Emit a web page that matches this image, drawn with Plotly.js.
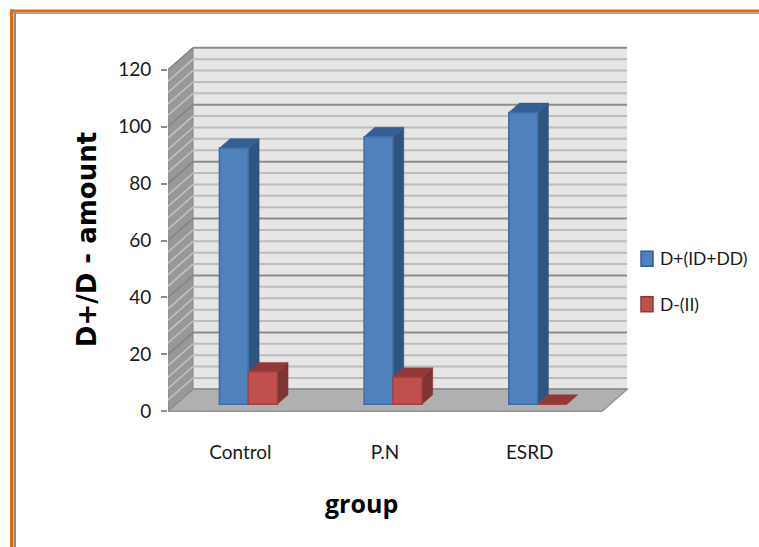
<!DOCTYPE html>
<html>
<head>
<meta charset="utf-8">
<script src="https://cdn.plot.ly/plotly-3.0.1.min.js"></script>
<style>html,body{margin:0;padding:0;background:#fff;overflow:hidden}#chart{width:759px;height:547px}</style>
</head>
<body>
<div id="chart"></div>
<script>
// Share of D+ and D- by patient group
const categories = ['Control', 'P.N', 'ESRD'];
const seriesNames = ['D+(ID+DD)', 'D-(II)'];
const dPlus = [90, 94, 102.5];
const dMinus = [11.4, 9.5, 0];
const yTicks = [0, 20, 40, 60, 80, 100, 120];
const minorStep = 4;

// Oblique projection: depth 0 is the front of the floor, depth 1 the back wall.
const W = 759, H = 547;
const plot = {l: 168, r: 759, t: 43, b: 416.7};
const xRange = [-0.5, 3.585];
const yRange = [-2, 129.4];
const depthX = 0.173;   // horizontal shift of the back wall, in category units
const depthY = 7.72;    // vertical shift of the back wall, in value units
const barNear = 0.32, barFar = 0.75, barWidth = 0.2;

const px = (x, depth) => x + depth * depthX;
const py = (v, depth) => v + depth * depthY;
const paperX = p => (p - plot.l) / (plot.r - plot.l);
const paperY = p => (plot.b - p) / (plot.b - plot.t);

const shapes = [];
function poly(points, fill, lineColor, lineWidth) {
  const path = points.map((p, i) => (i ? 'L' : 'M') + p[0] + ',' + p[1]).join(' ') + ' Z';
  shapes.push({type: 'path', xref: 'x', yref: 'y', layer: 'below', path, fillcolor: fill,
    line: {color: lineColor, width: lineWidth}});
}
function seg(x0, y0, x1, y1, color, width) {
  shapes.push({type: 'line', xref: 'x', yref: 'y', layer: 'below', x0, y0, x1, y1,
    line: {color, width}});
}

const xl = -0.5, xr = 2.5, yMax = yTicks[yTicks.length - 1];

// back wall, side wall and floor
poly([[px(xl,1),py(0,1)],[px(xr,1),py(0,1)],[px(xr,1),py(yMax,1)],[px(xl,1),py(yMax,1)]], '#e6e6e6', 'rgba(0,0,0,0)', 0);
poly([[px(xl,0),py(0,0)],[px(xl,1),py(0,1)],[px(xl,1),py(yMax,1)],[px(xl,0),py(yMax,0)]], '#989898', '#8a8a8a', 1);

// minor then major gridlines, wrapping from the side wall onto the back wall
for (let v = 0; v <= yMax; v += minorStep) {
  if (v % 20 === 0) continue;
  seg(px(xl,1), py(v,1), px(xr,1), py(v,1), '#bcbcbc', 2);
  seg(px(xl,0), py(v,0), px(xl,1), py(v,1), '#c4c4c4', 1.5);
}
yTicks.forEach(v => {
  seg(px(xl,1), py(v,1), px(xr,1), py(v,1), '#8c8c8c', 2);
  seg(px(xl,0), py(v,0), px(xl,1), py(v,1), '#828282', 1.5);
});
poly([[px(xl,0),py(0,0)],[px(xr,0),py(0,0)],[px(xr,1),py(0,1)],[px(xl,1),py(0,1)]], '#b0b0b0', '#929292', 1.5);

// depth faces of one bar: right side and top
function depthFaces(x0, value, sideColor, topColor, order) {
  const x1 = x0 + barWidth;
  const face = (pts, color) => ({
    type: 'scatter', mode: 'lines', fill: 'toself', fillcolor: color,
    x: pts.map(p => px(p[0], p[1])), y: pts.map(p => py(p[2], p[1])),
    line: {color, width: 0.5}, showlegend: false, hoverinfo: 'skip', zorder: order
  });
  return [
    face([[x1,barNear,0],[x1,barFar,0],[x1,barFar,value],[x1,barNear,value],[x1,barNear,0]], sideColor),
    face([[x0,barNear,value],[x1,barNear,value],[x1,barFar,value],[x0,barFar,value],[x0,barNear,value]], topColor)
  ];
}

// front face of a series, lifted and shifted to its place on the floor
function frontBars(name, values, offset, color, edge, order) {
  return {
    type: 'bar', name, showlegend: false,
    x: categories.map((c, i) => px(i, barNear)), y: values,
    base: values.map(() => py(0, barNear)),
    width: barWidth, offset,
    marker: {color, line: {color: edge, width: 1.5}},
    customdata: categories,
    hovertemplate: '%{customdata}: %{y}<extra>' + name + '</extra>',
    zorder: order
  };
}

const traces = [];
dPlus.forEach((v, i) => traces.push(...depthFaces(i - barWidth, v, '#2f5480', '#355f92', 1)));
traces.push(frontBars(seriesNames[0], dPlus, -barWidth, '#4f81bd', '#3d6da6', 2));
dMinus.forEach((v, i) => traces.push(...depthFaces(i, v, '#7e3432', '#923836', 3)));
traces.push(frontBars(seriesNames[1], dMinus, 0, '#c0504d', '#a8403d', 4));

// page frame: orange rule with a thin grey rule inside it
const frame = [
  {x0: 10, x1: W, y0: 9.5, y1: 12.5, c: '#e36c0a'},
  {x0: 10, x1: 13, y0: 9.5, y1: H, c: '#e36c0a'},
  {x0: 13.5, x1: W, y0: 12.5, y1: 14, c: '#a0a0a0'},
  {x0: 13.5, x1: 16, y0: 12.5, y1: H, c: '#8c8c8c'}
];
frame.forEach(f => shapes.push({
  type: 'rect', xref: 'paper', yref: 'paper', layer: 'above',
  x0: paperX(f.x0), x1: paperX(f.x1), y0: paperY(f.y0), y1: paperY(f.y1),
  fillcolor: f.c, line: {width: 0}
}));

const labelFont = {family: 'Lato, sans-serif', size: 19, color: '#1a1a1a'};
const legendFont = {family: 'Lato, sans-serif', size: 17.5, color: '#1a1a1a'};

// legend key beside the plot
const legendRows = [
  {name: seriesNames[0], top: 251, fill: '#4f81bd', edge: '#2f5f96'},
  {name: seriesNames[1], top: 296.5, fill: '#c0504d', edge: '#943634'}
];
const legendNotes = [];
legendRows.forEach(r => {
  shapes.push({
    type: 'rect', xref: 'paper', yref: 'paper', layer: 'above',
    x0: paperX(641), x1: paperX(653), y0: paperY(r.top), y1: paperY(r.top + 15),
    fillcolor: r.fill, line: {color: r.edge, width: 1.5}
  });
  legendNotes.push({
    xref: 'paper', yref: 'paper', x: paperX(658), y: paperY(r.top + 7.5),
    xanchor: 'left', yanchor: 'middle', showarrow: false, text: r.name, font: legendFont
  });
});

const layout = {
  width: W, height: H,
  paper_bgcolor: '#fff', plot_bgcolor: 'rgba(0,0,0,0)',
  margin: {l: plot.l, r: W - plot.r, t: plot.t, b: H - plot.b, pad: 0},
  barmode: 'overlay',
  showlegend: false,
  xaxis: {
    range: xRange, fixedrange: true, showgrid: false, zeroline: false, showline: false,
    tickmode: 'array', tickvals: categories.map((c, i) => i), ticktext: categories,
    ticks: 'outside', ticklen: 18, tickcolor: 'rgba(0,0,0,0)', tickfont: labelFont
  },
  yaxis: {
    range: yRange, fixedrange: true, showgrid: false, zeroline: false, showline: false,
    tickmode: 'array', tickvals: yTicks,
    ticks: 'outside', ticklen: 6, tickwidth: 1.5, tickcolor: '#8c8c8c',
    tickfont: labelFont, ticklabelstandoff: 6
  },
  shapes,
  annotations: [
    {xref: 'paper', yref: 'paper', x: paperX(361), y: paperY(503), xanchor: 'center', yanchor: 'middle',
     showarrow: false, text: '<b>group</b>',
     font: {family: '"Open Sans", sans-serif', size: 25, color: '#000'}},
    {xref: 'paper', yref: 'paper', x: paperX(87), y: paperY(240), xanchor: 'center', yanchor: 'middle',
     showarrow: false, textangle: -90, text: '<b>D+/D - amount</b>',
     font: {family: '"DejaVu Sans", sans-serif', size: 26, color: '#000'}},
    ...legendNotes
  ]
};

Plotly.newPlot('chart', traces, layout, {displayModeBar: false, responsive: false});
</script>
</body>
</html>
